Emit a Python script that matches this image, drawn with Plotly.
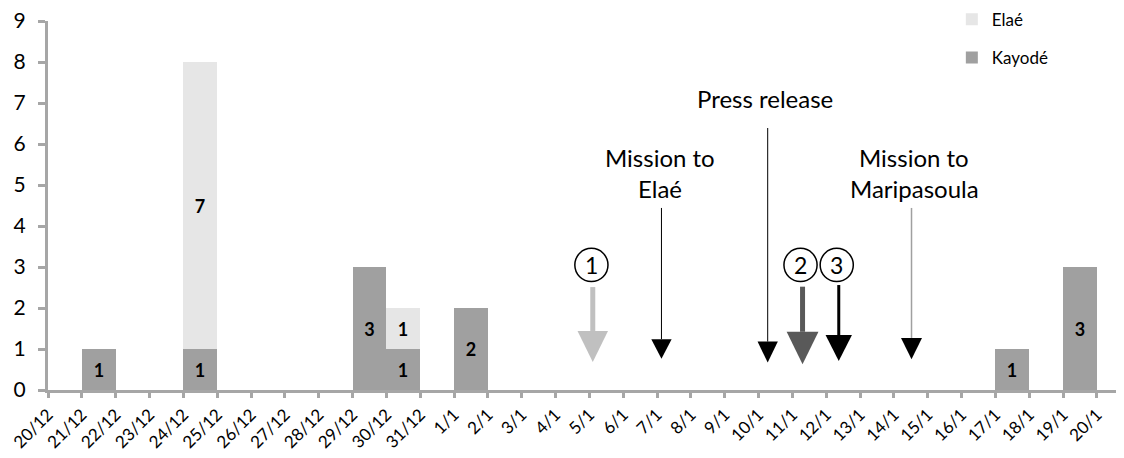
import plotly.graph_objects as go

# ---- data ----
dates = ["20/12", "21/12", "22/12", "23/12", "24/12", "25/12", "26/12", "27/12",
         "28/12", "29/12", "30/12", "31/12", "1/1", "2/1", "3/1", "4/1", "5/1",
         "6/1", "7/1", "8/1", "9/1", "10/1", "11/1", "12/1", "13/1", "14/1",
         "15/1", "16/1", "17/1", "18/1", "19/1", "20/1"]
kayode = [0, 1, 0, 0, 1, 0, 0, 0, 0, 3, 1, 0, 2, 0, 0, 0, 0, 0, 0, 0, 0, 0,
          0, 0, 0, 0, 0, 0, 1, 0, 3, 0]
elae = [0, 0, 0, 0, 7, 0, 0, 0, 0, 0, 1, 0, 0, 0, 0, 0, 0, 0, 0, 0, 0, 0,
        0, 0, 0, 0, 0, 0, 0, 0, 0, 0]

FONT = "Lato"
KAY_COL = "#a0a0a0"
ELA_COL = "#e6e6e6"
AXIS_COL = "#a6a6a6"

idx = list(range(len(dates)))
xpos = [i + 0.5 for i in idx]

fig = go.Figure()
fig.add_trace(go.Bar(
    x=xpos, y=kayode, width=[1] * len(idx), name="Kayodé",
    marker=dict(color=KAY_COL, line=dict(width=0)),
    text=[str(v) if v else "" for v in kayode], textposition="inside",
    insidetextanchor="middle", textangle=0,
    textfont=dict(family=FONT, size=18, color="black", weight="bold"),
    legendgroup="k", legendrank=2))
fig.add_trace(go.Bar(
    x=xpos, y=elae, width=[1] * len(idx), name="Elaé",
    marker=dict(color=ELA_COL, line=dict(width=0)),
    text=[str(v) if v else "" for v in elae], textposition="inside",
    insidetextanchor="middle", textangle=0,
    textfont=dict(family=FONT, size=18, color="black", weight="bold"),
    legendgroup="e", legendrank=1))

# ---- event arrows: (x, shaft top, head base, tip, half width(x units), shaft color, shaft width, head color)
arrows = [
    (16.10, 2.51, 1.44, 0.68, 0.45, "#c0c0c0", 5, "#c0c0c0"),
    (18.13, 4.44, 1.24, 0.76, 0.30, "black", 1, "black"),
    (21.27, 6.39, 1.18, 0.67, 0.30, "black", 1, "black"),
    (22.30, 2.52, 1.42, 0.63, 0.47, "#595959", 5, "#595959"),
    (23.37, 2.56, 1.34, 0.71, 0.39, "black", 3, "black"),
    (25.52, 4.44, 1.27, 0.75, 0.31, "#a0a0a0", 1.5, "black"),
]
shapes = []
for (x, top, base, tip, hw, sc, sw, hc) in arrows:
    shapes.append(dict(type="line", xref="x", yref="y", x0=x, x1=x, y0=top,
                       y1=base, line=dict(color=sc, width=sw)))
    shapes.append(dict(type="path", xref="x", yref="y",
                       path=f"M {x-hw},{base} L {x+hw},{base} L {x},{tip} Z",
                       fillcolor=hc, line=dict(width=0)))

# numbered circles
circles = [(16.06, "1"), (22.24, "2"), (23.31, "3")]
annotations = []
for (cx, lab) in circles:
    shapes.append(dict(type="circle", xref="x", yref="y", x0=cx - 0.49, x1=cx + 0.49,
                       y0=3.05 - 0.405, y1=3.05 + 0.405,
                       line=dict(color="black", width=1.5), fillcolor="white"))
    annotations.append(dict(x=cx, y=3.05, xref="x", yref="y", text=lab,
                            showarrow=False, font=dict(family=FONT, size=23, color="black")))

labels = [
    (21.19, 7.12, "Press release"),
    (18.10, 5.68, "Mission to"),
    (18.10, 4.92, "Elaé"),
    (25.60, 5.68, "Mission to"),
    (25.60, 4.92, "Maripasoula"),
]
for (tx, ty, t) in labels:
    annotations.append(dict(x=tx, y=ty, xref="x", yref="y", text=t, showarrow=False,
                            font=dict(family=FONT, size=24, color="black")))

fig.update_layout(
    width=1116, height=450,
    margin=dict(l=40, r=0, t=13, b=68, autoexpand=False),
    paper_bgcolor="white", plot_bgcolor="white",
    barmode="stack", bargap=0,
    font=dict(family=FONT, color="black"),
    shapes=shapes, annotations=annotations,
    showlegend=True,
    legend=dict(x=0.84, y=1.052, xref="paper", yref="paper",
                xanchor="left", yanchor="top",
                traceorder="grouped", tracegroupgap=13,
                font=dict(family=FONT, size=17), bgcolor="rgba(0,0,0,0)"),
    xaxis=dict(range=[0, 31.8], tickmode="array", tickvals=idx, ticktext=dates,
               tickangle=-45, showgrid=False, zeroline=False, automargin=False,
               showline=True, linecolor=AXIS_COL, linewidth=3,
               ticks="outside", ticklen=5, tickwidth=3, tickcolor=AXIS_COL,
               ticklabeloverflow="allow",
               tickfont=dict(family=FONT, size=17)),
    yaxis=dict(range=[0, 9], dtick=1, showgrid=False, zeroline=False, automargin=False,
               showline=True, linecolor=AXIS_COL, linewidth=3,
               ticks="outside", ticklen=7, tickwidth=3, tickcolor=AXIS_COL,
               ticklabelstandoff=8, ticklabeloverflow="allow",
               tickfont=dict(family=FONT, size=21)),
)

fig.write_html("out.html")
